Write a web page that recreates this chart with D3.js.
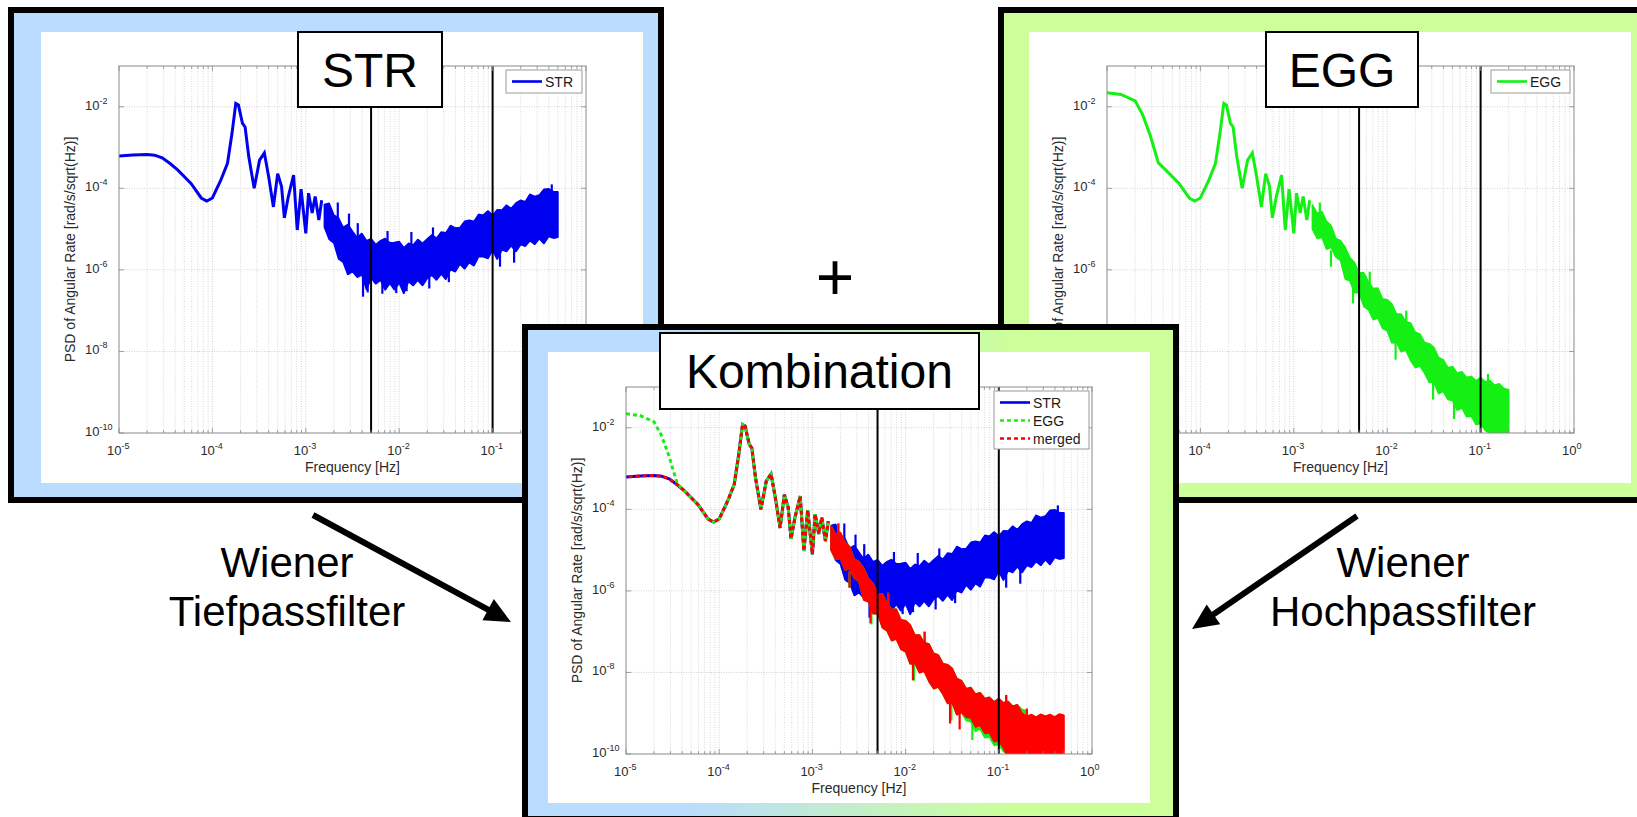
<!DOCTYPE html>
<html>
<head>
<meta charset="utf-8">
<script src="https://cdn.jsdelivr.net/npm/d3@7"></script>
<style>
  body { margin: 0; background: #fff; }
  svg text { font-family: "Liberation Sans", Arial, Helvetica, sans-serif; }
</style>
</head>
<body>
<div id="chart"></div>
<script>
/* Axis ticks and filter corner frequencies */
var xTicks = [1e-5, 1e-4, 1e-3, 1e-2, 1e-1, 1e0];
var yTicks = [1e-10, 1e-8, 1e-6, 1e-4, 1e-2];
var cornerFreqs = [5e-3, 1e-1];

/* Low frequency part (Hz, PSD) */
var lowFreq = [1.0e-5, 1.41e-5, 2.0e-5, 2.4e-5, 2.9e-5, 3.55e-5, 4.27e-5, 5.9e-5, 7.6e-5, 8.7e-5, 1.0e-4, 1.23e-4, 1.45e-4, 1.62e-4];
var strLow    = [6.2e-4, 6.6e-4, 6.8e-4, 6.5e-4, 5.6e-4, 4.0e-4, 2.8e-4, 1.32e-4, 5.8e-5, 4.9e-5, 5.8e-5, 1.58e-4, 4.1e-4, 2.2e-3];
var eggLow    = [2.2e-2, 2.0e-2, 1.4e-2, 6.5e-3, 2.0e-3, 4.2e-4, 2.8e-4, 1.32e-4, 5.8e-5, 4.9e-5, 5.8e-5, 1.58e-4, 4.1e-4, 2.2e-3];
var mergedLow = [6.2e-4, 6.6e-4, 6.8e-4, 6.5e-4, 5.6e-4, 4.0e-4, 2.8e-4, 1.32e-4, 5.8e-5, 4.9e-5, 5.8e-5, 1.58e-4, 4.1e-4, 2.2e-3];

/* Orbit resonance region, same in all three signals */
var oscFreq = [1.78e-4, 1.9e-4, 2.1e-4, 2.24e-4, 2.45e-4, 2.8e-4, 3.2e-4, 3.6e-4, 4.0e-4, 4.5e-4, 5.0e-4, 5.5e-4,
               5.9e-4, 6.5e-4, 7.4e-4, 8.1e-4, 8.9e-4, 1.0e-3, 1.07e-3, 1.17e-3, 1.26e-3, 1.38e-3, 1.48e-3];
var oscPsd  = [1.2e-2, 1.1e-2, 3.9e-3, 3.2e-3, 6.0e-4, 1.0e-4, 4.9e-4, 7.4e-4, 1.95e-4, 3.5e-5, 2.3e-4, 1.1e-4,
               1.9e-5, 6.3e-5, 2.1e-4, 9.5e-6, 9.5e-5, 7.9e-6, 7.6e-5, 2.5e-5, 6.3e-5, 1.66e-5, 5.1e-5];

/* Noisy high frequency part: upper / lower edge of the band */
var bandFreq = [1.58e-3, 1.78e-3, 2.0e-3, 2.24e-3, 2.51e-3, 2.82e-3, 3.16e-3, 3.55e-3, 3.98e-3, 4.47e-3,
                5.01e-3, 5.62e-3, 6.31e-3, 7.08e-3, 7.94e-3, 8.91e-3, 1.0e-2, 1.12e-2, 1.26e-2, 1.41e-2,
                1.58e-2, 1.78e-2, 2.0e-2, 2.24e-2, 2.51e-2, 2.82e-2, 3.16e-2, 3.55e-2, 3.98e-2, 4.47e-2,
                5.01e-2, 5.62e-2, 6.31e-2, 7.08e-2, 7.94e-2, 8.91e-2, 0.1, 0.112, 0.126, 0.141,
                0.158, 0.178, 0.2, 0.224, 0.251, 0.282, 0.316, 0.355, 0.398, 0.447, 0.501];

var strHi = [4.0e-5, 4.3e-5, 2.2e-5, 1.9e-5, 1.1e-5, 1.3e-5, 8.9e-6, 6.2e-6, 7.9e-6, 5.2e-6,
             5.8e-6, 4.2e-6, 5.2e-6, 5.9e-6, 4.6e-6, 4.7e-6, 5.0e-6, 3.5e-6, 4.5e-6, 4.1e-6,
             5.6e-6, 4.5e-6, 5.8e-6, 7.2e-6, 6.0e-6, 8.5e-6, 8.1e-6, 1.23e-5, 1.07e-5, 1.1e-5,
             1.55e-5, 1.66e-5, 1.55e-5, 2.3e-5, 2.2e-5, 2.8e-5, 2.2e-5, 3.0e-5, 2.95e-5, 3.9e-5,
             3.2e-5, 4.4e-5, 5.1e-5, 4.7e-5, 7.2e-5, 6.3e-5, 6.9e-5, 9.5e-5, 9.8e-5, 8.3e-5, 8.3e-5];
var strLo = [1.12e-5, 5.6e-6, 4.5e-6, 1.86e-6, 1.55e-6, 7.6e-7, 9.1e-7, 6.6e-7, 7.6e-7, 3.2e-7,
             6.3e-7, 4.5e-7, 5.6e-7, 3.2e-7, 4.7e-7, 3.2e-7, 4.8e-7, 2.6e-7, 5.2e-7, 4.1e-7,
             5.6e-7, 4.1e-7, 6.2e-7, 7.4e-7, 5.6e-7, 7.9e-7, 5.8e-7, 1.02e-6, 8.9e-7, 1.38e-6,
             1.05e-6, 1.51e-6, 1.26e-6, 2.1e-6, 2.1e-6, 1.9e-6, 3.0e-6, 1.8e-6, 3.1e-6, 2.8e-6,
             3.9e-6, 2.8e-6, 4.2e-6, 3.8e-6, 5.2e-6, 4.2e-6, 5.8e-6, 4.4e-6, 6.6e-6, 6.0e-6, 6.3e-6];

var eggHi = [4.0e-5, 2.45e-5, 2.7e-5, 1.55e-5, 1.23e-5, 5.9e-6, 5.2e-6, 3.6e-6, 2.0e-6, 1.51e-6,
             8.5e-7, 8.5e-7, 5.1e-7, 3.5e-7, 3.6e-7, 1.95e-7, 1.86e-7, 1.48e-7, 8.3e-8, 8.3e-8,
             5.4e-8, 5.0e-8, 2.95e-8, 2.7e-8, 1.66e-8, 1.55e-8, 1.26e-8, 7.1e-9, 6.3e-9, 4.0e-9,
             4.3e-9, 2.95e-9, 3.2e-9, 2.3e-9, 2.45e-9, 1.9e-9, 2.3e-9, 1.8e-9, 1.95e-9, 1.48e-9,
             1.62e-9, 1.23e-9, 1.15e-9];
var eggLo = [1.0e-5, 5.9e-6, 6.3e-6, 3.2e-6, 3.6e-6, 2.05e-6, 1.7e-6, 6.0e-7, 5.4e-7, 2.75e-7,
             2.75e-7, 1.26e-7, 1.05e-7, 6.0e-8, 6.6e-8, 3.7e-8, 3.2e-8, 1.62e-8, 1.66e-8, 9.8e-9,
             1.07e-8, 6.0e-9, 4.0e-9, 4.4e-9, 2.95e-9, 1.74e-9, 1.78e-9, 9.1e-10, 1.05e-9, 6.6e-10,
             6.2e-10, 3.6e-10, 4.1e-10, 2.5e-10, 2.6e-10, 1.62e-10, 1.7e-10, 1.15e-10, 1.0e-10, 7.9e-11,
             6.3e-11, 5.0e-11, 4.0e-11];

var mergedHi = [4.0e-5, 2.45e-5, 2.7e-5, 1.55e-5, 1.23e-5, 5.9e-6, 5.2e-6, 3.6e-6, 2.0e-6, 1.51e-6,
                8.5e-7, 8.5e-7, 5.1e-7, 3.5e-7, 3.6e-7, 1.95e-7, 1.86e-7, 1.48e-7, 8.3e-8, 8.3e-8,
                5.4e-8, 5.0e-8, 2.95e-8, 2.7e-8, 1.66e-8, 1.55e-8, 1.26e-8, 7.1e-9, 6.3e-9, 4.0e-9,
                4.3e-9, 2.95e-9, 3.2e-9, 2.3e-9, 2.45e-9, 1.9e-9, 2.3e-9, 1.8e-9, 1.95e-9, 1.48e-9,
                1.62e-9, 1.0e-9, 8.3e-10, 9.3e-10, 8.0e-10, 9.5e-10, 8.5e-10, 9.3e-10, 8.1e-10, 9.6e-10, 8.9e-10];
var mergedLo = [1.0e-5, 5.9e-6, 6.3e-6, 3.2e-6, 3.6e-6, 2.05e-6, 1.7e-6, 6.0e-7, 5.4e-7, 2.75e-7,
                2.75e-7, 1.26e-7, 1.05e-7, 6.0e-8, 6.6e-8, 3.7e-8, 3.2e-8, 1.62e-8, 1.66e-8, 9.8e-9,
                1.07e-8, 6.0e-9, 4.0e-9, 4.4e-9, 2.95e-9, 1.74e-9, 1.78e-9, 9.1e-10, 1.05e-9, 8.0e-10,
                7.6e-10, 4.6e-10, 5.0e-10, 3.2e-10, 3.3e-10, 2.0e-10, 2.1e-10, 1.4e-10, 8.0e-11, 8.0e-11,
                8.0e-11, 8.0e-11, 8.0e-11, 8.0e-11, 8.0e-11, 8.0e-11, 8.0e-11, 8.0e-11, 8.0e-11, 8.0e-11, 8.0e-11];

/* Single spikes sticking out of the band: [frequency, from, to] */
var strSpikes = [[2.2e-3, 8e-6, 4.5e-5], [2.9e-3, 3e-6, 2.4e-5], [3.6e-3, 2e-6, 1.4e-5], [4.1e-3, 1e-6, 2.2e-7],
                 [4.6e-3, 1e-6, 2.8e-7], [6.6e-3, 1e-6, 2.6e-7], [7.5e-3, 2e-6, 9e-6], [9.3e-3, 1e-6, 2.7e-7],
                 [1.2e-2, 1e-6, 3.0e-7], [1.35e-2, 2e-6, 8.5e-6], [2.1e-2, 1.5e-6, 3.5e-7], [2.3e-2, 3e-6, 1.1e-5],
                 [3.4e-2, 2e-6, 5e-7], [0.12, 1e-5, 1.2e-6], [0.17, 1e-5, 1.5e-6], [0.43, 3e-5, 1.25e-4]];
var eggSpikes = [[1.9e-3, 1e-5, 4.5e-5], [2.5e-3, 3e-6, 1.2e-6], [4.3e-3, 5e-7, 1.5e-7], [6.5e-3, 3e-7, 9e-7],
                 [1.23e-2, 3e-8, 6.3e-9], [1.6e-2, 3e-8, 1.0e-7], [3.1e-2, 3e-9, 6.6e-10], [5.2e-2, 1e-9, 2.2e-10],
                 [0.12, 1e-9, 2.8e-9]];
var mergedSpikes = [[1.9e-3, 1e-5, 4.5e-5], [2.5e-3, 3e-6, 1.2e-6], [4.2e-3, 5e-7, 1.6e-7], [6.5e-3, 3e-7, 9e-7],
                    [1.2e-2, 3e-8, 6.4e-9], [1.6e-2, 3e-8, 1.0e-7], [3.0e-2, 3e-9, 5.6e-10], [3.8e-2, 2e-9, 4.0e-10],
                    [0.12, 1e-9, 2.8e-9], [0.2, 5e-10, 1.3e-9]];

/* Build a series (smooth line + noisy band + spikes) */
function makeSeries(name, color, low, hi, lo, spikes) {
    var line = lowFreq.map(function(f, i) { return [f, low[i]]; })
        .concat(oscFreq.map(function(f, i) { return [f, oscPsd[i]]; }));
    var band = hi.map(function(h, i) { return { f: bandFreq[i], hi: h, lo: lo[i] }; });
    return { name: name, color: color, dash: null, line: line, band: band, spikes: spikes };
}

var STR = makeSeries("STR", "#0000f0", strLow, strHi, strLo, strSpikes),
    EGG = makeSeries("EGG", "#14f014", eggLow, eggHi, eggLo, eggSpikes),
    MERGED = makeSeries("merged", "#ff0000", mergedLow, mergedHi, mergedLo, mergedSpikes);

/* In the combined plot EGG and merged are dashed */
var EGG_D = Object.assign({}, EGG, { dash: "4,3" }),
    MERGED_D = Object.assign({}, MERGED, { dash: "4,3" });

var blueFill = "#badcfe",
    greenFill = "#ccff99";

var mixFrame = [522, 324, 1179, 822];

var svg = d3.select("#chart")
    .append("svg")
    .attr("width", 1637)
    .attr("height", 817);

var defs = svg.append("defs");
var grad = defs.append("linearGradient").attr("id", "mixFill")
    .attr("x1", "0").attr("x2", "1").attr("y1", "0").attr("y2", "0");
grad.append("stop").attr("offset", "0.25").attr("stop-color", blueFill);
grad.append("stop").attr("offset", "0.75").attr("stop-color", greenFill);

function supLabel(sel, v) {
    var e = Math.round(Math.log10(v));
    sel.append("tspan").text("10");
    sel.append("tspan").attr("dy", -6).attr("font-size", 9).text(e);
}

function covered(p, px, py) {
    var c = p.cover;
    return c && px > c[0] && px < c[2] && py > c[1] && py < c[3];
}

function drawPanel(p) {
    var g = svg.append("g");
    var fr = p.frame, inn = p.inner, pl = p.plot;

    /* Frame */
    g.append("rect")
        .attr("x", fr[0]).attr("y", fr[1])
        .attr("width", fr[2] - fr[0]).attr("height", fr[3] - fr[1])
        .attr("fill", p.fill);
    g.append("rect")
        .attr("x", inn[0]).attr("y", inn[1])
        .attr("width", inn[2] - inn[0]).attr("height", inn[3] - inn[1])
        .attr("fill", "#fff");
    g.append("rect")
        .attr("x", fr[0] + 3).attr("y", fr[1] + 3)
        .attr("width", fr[2] - fr[0] - 6).attr("height", fr[3] - fr[1] - 6)
        .attr("fill", "none")
        .attr("stroke", "#000")
        .attr("stroke-width", 6);

    var x = d3.scaleLog().domain([1e-5, 1]).range([pl[0], pl[2]]);
    var y = d3.scaleLog().domain([1e-10, 1e-1]).range([pl[3], pl[1]]);

    /* Grid */
    var isDecade = function(v) { return Math.abs(Math.log10(v) - Math.round(Math.log10(v))) < 1e-6; };
    g.append("g").selectAll("line")
        .data(x.ticks().filter(function(v) { return v > 1e-5 && v < 1; }))
        .enter().append("line")
        .attr("x1", function(d) { return x(d); }).attr("x2", function(d) { return x(d); })
        .attr("y1", pl[1]).attr("y2", pl[3])
        .attr("stroke", function(d) { return isDecade(d) ? "#c4c4c4" : "#cfcfcf"; })
        .attr("stroke-width", 0.8)
        .attr("stroke-dasharray", "1,1.5");
    g.append("g").selectAll("line")
        .data(yTicks.filter(function(v) { return v > 1e-10; }))
        .enter().append("line")
        .attr("x1", pl[0]).attr("x2", pl[2])
        .attr("y1", function(d) { return y(d); }).attr("y2", function(d) { return y(d); })
        .attr("stroke", "#c4c4c4")
        .attr("stroke-width", 0.8)
        .attr("stroke-dasharray", "1,1.5");

    /* Data */
    var clipId = "clip-" + p.id;
    defs.append("clipPath").attr("id", clipId).append("rect")
        .attr("x", pl[0]).attr("y", pl[1])
        .attr("width", pl[2] - pl[0]).attr("height", pl[3] - pl[1]);
    var dataG = g.append("g").attr("clip-path", "url(#" + clipId + ")");

    var area = d3.area()
        .x(function(d) { return x(d.f); })
        .y0(function(d) { return y(d.lo); })
        .y1(function(d) { return y(d.hi); });
    var line = d3.line()
        .x(function(d) { return x(d[0]); })
        .y(function(d) { return y(d[1]); });

    var linePaths = [];
    p.series.forEach(function(s) {
        dataG.append("path")
            .datum(s.band)
            .attr("d", area)
            .attr("fill", s.color)
            .attr("stroke", s.color)
            .attr("stroke-width", 1.5)
            .attr("stroke-linejoin", "bevel");
        dataG.append("g").selectAll("line")
            .data(s.spikes)
            .enter().append("line")
            .attr("x1", function(d) { return x(d[0]); }).attr("x2", function(d) { return x(d[0]); })
            .attr("y1", function(d) { return y(d[1]); }).attr("y2", function(d) { return y(d[2]); })
            .attr("stroke", s.color)
            .attr("stroke-width", 2.2);
        linePaths.push(dataG.append("path")
            .datum(s.line)
            .attr("d", line)
            .attr("fill", "none")
            .attr("stroke", s.color)
            .attr("stroke-width", 3)
            .attr("stroke-dasharray", s.dash));
    });

    /* Put the dashes of the last dashed line into the gaps of the one below */
    if (p.dashPair) {
        var a = linePaths[p.dashPair[0]].node(), b = linePaths[p.dashPair[1]].node();
        var shift = a.getTotalLength() - b.getTotalLength() + 3.5;
        linePaths[p.dashPair[1]].attr("stroke-dashoffset", shift);
    }

    /* Filter corner lines */
    g.append("g").selectAll("line")
        .data(cornerFreqs)
        .enter().append("line")
        .attr("x1", function(d) { return x(d); }).attr("x2", function(d) { return x(d); })
        .attr("y1", pl[1]).attr("y2", pl[3])
        .attr("stroke", "#000")
        .attr("stroke-width", 2);

    /* Axes box and ticks */
    g.append("rect")
        .attr("x", pl[0]).attr("y", pl[1])
        .attr("width", pl[2] - pl[0]).attr("height", pl[3] - pl[1])
        .attr("fill", "none")
        .attr("stroke", "#8a8a8a")
        .attr("stroke-width", 1);
    var tk = g.append("g").attr("stroke", "#8a8a8a").attr("stroke-width", 0.8);
    x.ticks().forEach(function(v) {
        var len = isDecade(v) ? 5 : 3;
        tk.append("line").attr("x1", x(v)).attr("x2", x(v)).attr("y1", pl[3]).attr("y2", pl[3] - len);
        tk.append("line").attr("x1", x(v)).attr("x2", x(v)).attr("y1", pl[1]).attr("y2", pl[1] + len);
    });
    yTicks.forEach(function(v) {
        tk.append("line").attr("x1", pl[0]).attr("x2", pl[0] + 5).attr("y1", y(v)).attr("y2", y(v));
        tk.append("line").attr("x1", pl[2]).attr("x2", pl[2] - 5).attr("y1", y(v)).attr("y2", y(v));
    });

    var lab = g.append("g").attr("fill", "#2a2a2a").attr("font-size", 13);
    xTicks.forEach(function(v) {
        if (covered(p, x(v), pl[3] + 18)) return;
        lab.append("text")
            .attr("x", x(v) - 12).attr("y", pl[3] + 22)
            .call(supLabel, v);
    });
    yTicks.forEach(function(v) {
        if (covered(p, pl[0] - 20, y(v))) return;
        lab.append("text")
            .attr("x", pl[0] - 34).attr("y", y(v) + 3)
            .call(supLabel, v);
    });
    lab.append("text")
        .attr("x", (pl[0] + pl[2]) / 2).attr("y", pl[3] + 39)
        .attr("text-anchor", "middle")
        .attr("font-size", 14)
        .text("Frequency [Hz]");
    lab.append("text")
        .attr("transform", "translate(" + (pl[0] - 44) + "," + ((pl[1] + pl[3]) / 2) + ") rotate(-90)")
        .attr("text-anchor", "middle")
        .attr("font-size", 14)
        .text("PSD of Angular Rate [rad/s/sqrt(Hz)]");

    /* Legend */
    var lg = p.legend;
    g.append("rect")
        .attr("x", lg[0]).attr("y", lg[1])
        .attr("width", lg[2] - lg[0]).attr("height", lg[3] - lg[1])
        .attr("fill", "#fff")
        .attr("stroke", "#9a9a9a")
        .attr("stroke-width", 1);
    p.series.forEach(function(s, i) {
        var ly = lg[1] + 11.5 + i * 18;
        g.append("line")
            .attr("x1", lg[0] + 6).attr("x2", lg[0] + 36)
            .attr("y1", ly).attr("y2", ly)
            .attr("stroke", s.color)
            .attr("stroke-width", 2.6)
            .attr("stroke-dasharray", s.dash);
        g.append("text")
            .attr("x", lg[0] + 39).attr("y", ly + 5)
            .attr("font-size", 14)
            .attr("fill", "#1a1a1a")
            .text(s.name);
    });

    /* Title box */
    var tb = p.titleBox;
    g.append("rect")
        .attr("x", tb[0]).attr("y", tb[1])
        .attr("width", tb[2] - tb[0]).attr("height", tb[3] - tb[1])
        .attr("fill", "#fff")
        .attr("stroke", "#000")
        .attr("stroke-width", 2);
    g.append("text")
        .attr("x", (tb[0] + tb[2]) / 2).attr("y", tb[1] + 55)
        .attr("text-anchor", "middle")
        .attr("font-size", 48)
        .attr("fill", "#000")
        .text(p.title);
}

drawPanel({ id: "str", title: "STR", fill: blueFill, cover: mixFrame,
    frame: [8, 7, 664, 503], inner: [41, 32, 643, 483], plot: [119, 66, 586, 433],
    titleBox: [298, 32, 442, 107], legend: [506, 70, 582, 93], series: [STR] });

drawPanel({ id: "egg", title: "EGG", fill: greenFill, cover: mixFrame,
    frame: [998, 7, 1646, 503], inner: [1029, 32, 1631, 483], plot: [1107, 66, 1574, 433],
    titleBox: [1266, 32, 1418, 107], legend: [1491, 70, 1570, 93], series: [EGG] });

drawPanel({ id: "mix", title: "Kombination", fill: "url(#mixFill)",
    frame: mixFrame, inner: [548, 352, 1150, 803], plot: [626, 387, 1092, 754],
    titleBox: [660, 333, 979, 409], legend: [994, 391, 1089, 449],
    series: [STR, EGG_D, MERGED_D], dashPair: [1, 2] });

/* Plus sign, arrows and filter captions */
svg.append("text")
    .attr("x", 835).attr("y", 300)
    .attr("text-anchor", "middle")
    .attr("font-size", 66)
    .text("+");

function arrow(x1, y1, x2, y2) {
    var dx = x2 - x1, dy = y2 - y1, len = Math.sqrt(dx * dx + dy * dy),
        ux = dx / len, uy = dy / len, L = 26, W = 12,
        bx = x2 - ux * L, by = y2 - uy * L;
    svg.append("line")
        .attr("x1", x1).attr("y1", y1).attr("x2", bx + ux * 2).attr("y2", by + uy * 2)
        .attr("stroke", "#000").attr("stroke-width", 6);
    svg.append("polygon")
        .attr("points", [[x2, y2], [bx - uy * W, by + ux * W], [bx + uy * W, by - ux * W]].join(" "))
        .attr("fill", "#000");
}
arrow(313, 515, 511, 622);
arrow(1357, 516, 1192, 629);

var captions = [
    { x: 287, lines: ["Wiener", "Tiefpassfilter"] },
    { x: 1403, lines: ["Wiener", "Hochpassfilter"] }
];
captions.forEach(function(c) {
    c.lines.forEach(function(t, i) {
        svg.append("text")
            .attr("x", c.x).attr("y", 577 + i * 49)
            .attr("text-anchor", "middle")
            .attr("font-size", 42)
            .attr("fill", "#000")
            .text(t);
    });
});
</script>
</body>
</html>
